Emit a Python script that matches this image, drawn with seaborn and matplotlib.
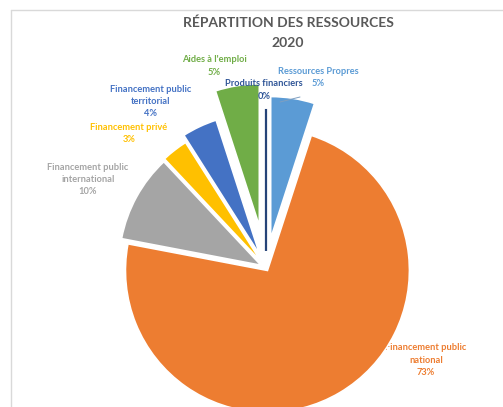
import numpy as np
import matplotlib
matplotlib.use("Agg")
import matplotlib.pyplot as plt
import seaborn as sns

# Répartition des ressources 2020 (Excel pie, clockwise from 12 o'clock)
categories = ["Ressources Propres", "Financement public national",
              "Financement public international", "Financement privé",
              "Financement public territorial", "Aides à l'emploi",
              "Produits financiers"]
shares = [5, 73, 10, 3, 4, 5, 0]
label_lines = [["Ressources Propres"],
               ["Financement public", "national"],
               ["Financement public", "international"],
               ["Financement privé"],
               ["Financement public", "territorial"],
               ["Aides à l'emploi"],
               ["Produits financiers"]]
colors = ["#5B9BD5", "#ED7D31", "#A5A5A5", "#FFC000", "#4472C4", "#70AD47", "#264478"]
label_colors = ["#5B9BD5", "#ED7D31", "#A5A5A5", "#FFC000", "#4472C4", "#70AD47", "#2F5597"]
explode = [0.21, 0.02, 0.04, 0.05, 0.10, 0.30, 0.12]

# label anchor (pixel centre of first line), layout only
label_pos = [(318, 71), (426, 348), (88, 167), (129, 127), (151, 89), (214, 60), (264, 84)]

W, H = 503, 407
R = 142.0           # pie radius in pixels
CX, CY = 266, 268   # pie centre in pixels (from top-left)

sns.set_theme(style="white")
plt.rcParams["font.family"] = ["Lato", "DejaVu Sans"]

fig = plt.figure(figsize=(W / 100, H / 100), dpi=100)
ax = fig.add_axes([0, 0, 1, 1])

wedges, _ = ax.pie(shares, explode=explode, colors=colors, startangle=90,
                   counterclock=False, radius=1.0,
                   shadow=dict(ox=1.6, oy=-1.6, facecolor="#cfcfcf",
                               edgecolor="none", alpha=0.6),
                   wedgeprops=dict(edgecolor="white", linewidth=1.2))
for w in wedges:
    w.set_zorder(3)
# the 0% slice only shows as a line
wedges[-1].set_edgecolor(colors[-1])
wedges[-1].set_linewidth(1.6)

ax.set_xlim(-CX / R, (W - CX) / R)
ax.set_ylim(-(H - CY) / R, CY / R)
ax.set_aspect("equal")
ax.axis("off")

# chart area border
fig.add_artist(plt.Line2D([11 / W, 11 / W], [0, 1 - 10 / H], color="#D9D9D9", lw=1))
fig.add_artist(plt.Line2D([11 / W, 1], [1 - 10 / H, 1 - 10 / H], color="#D9D9D9", lw=1))

fig.text(288 / W, 1 - 23 / H, "RÉPARTITION DES RESSOURCES", ha="center", va="center",
         fontsize=10, fontweight="bold", color="#595959")
fig.text(288 / W, 1 - 43 / H, "2020", ha="center", va="center",
         fontsize=10, fontweight="bold", color="#595959")

line_h = 12.3
for i, cat in enumerate(categories):
    x, y = label_pos[i]
    lines = label_lines[i] + [f"{shares[i]}%"]
    for k, txt in enumerate(lines):
        ax.text(x / W, 1 - (y + k * line_h) / H, txt, ha="center", va="center",
                transform=fig.transFigure, fontsize=6.7, fontweight="bold",
                color=label_colors[i], zorder=2 if i == 1 else 5)

# leader line of the "Ressources Propres" label
ax.add_line(plt.Line2D([280 / W, 300 / W], [1 - 102 / H, 1 - 97 / H],
                       transform=fig.transFigure, color="#7f9fc0", lw=0.7, zorder=6))

fig.savefig("out.png", dpi=100)
